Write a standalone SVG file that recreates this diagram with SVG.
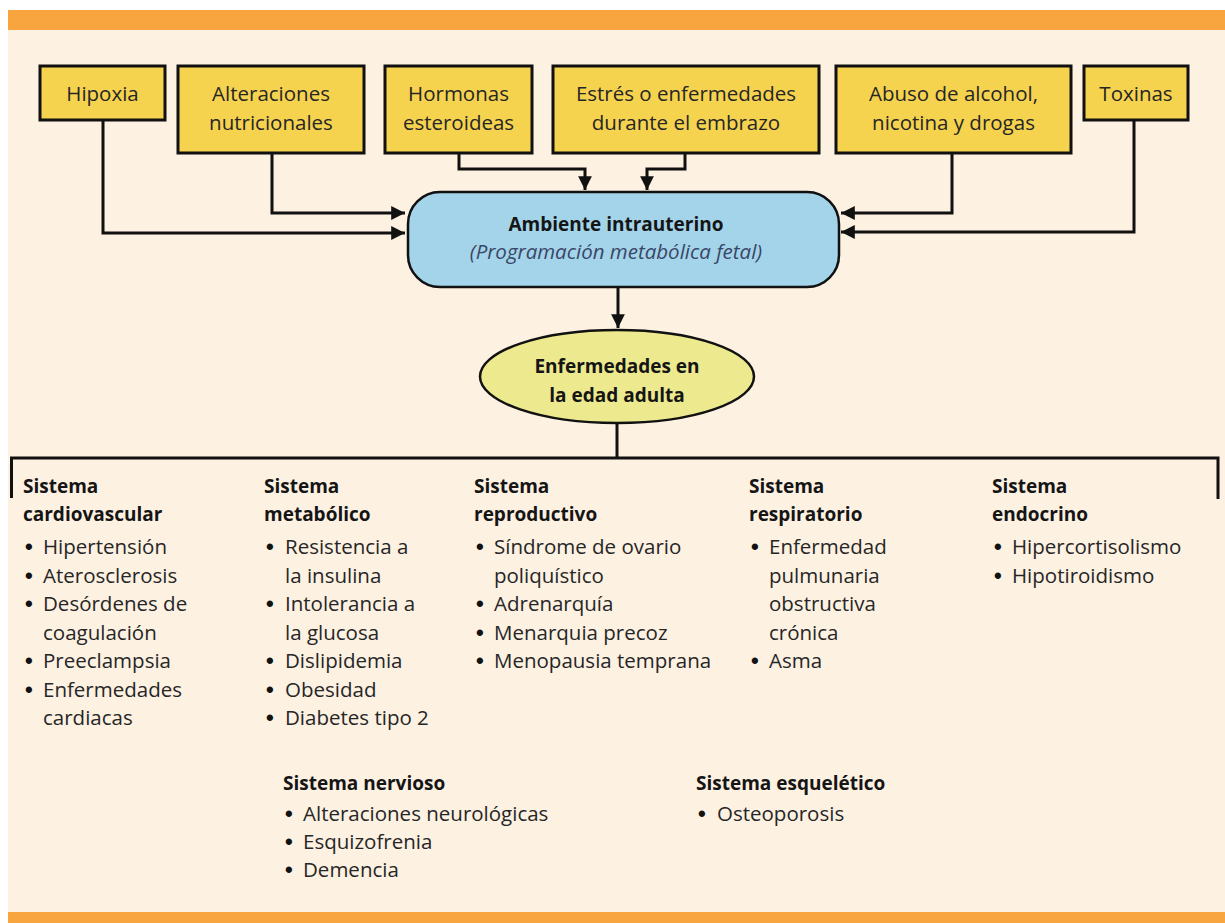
<svg xmlns="http://www.w3.org/2000/svg" width="1225" height="923" viewBox="0 0 1225 923">
<style>
.bg{fill:#fdf1e2}
.bar{fill:#f8a53f}
.box{fill:#f6d34f;stroke:#111;stroke-width:3}
.t{font-family:"Open Sans","Liberation Sans",sans-serif;font-size:20.5px;fill:#262626}
.c{text-anchor:middle}
.b{font-weight:bold;font-size:19px;fill:#151515}
.d{font-family:"Liberation Sans",sans-serif;font-size:22px;font-weight:bold;fill:#111}
.conn{fill:none;stroke:#111;stroke-width:3}
</style>
<defs>
<marker id="ah" viewBox="0 0 10 10" refX="10" refY="5" markerWidth="4.6" markerHeight="4.6" orient="auto" markerUnits="strokeWidth">
<path d="M0,0 L10,5 L0,10 Z" fill="#111"/>
</marker>
</defs>
<rect x="0" y="0" width="1225" height="923" fill="#ffffff"/>
<rect class="bg" x="8" y="30" width="1217" height="882"/>
<rect class="bar" x="8" y="10" width="1217" height="20"/>
<rect class="bar" x="8" y="912" width="1217" height="11"/>

<g id="connectors">
<path class="conn" d="M103,121 V233 H405" marker-end="url(#ah)"/>
<path class="conn" d="M272,153 V213 H405" marker-end="url(#ah)"/>
<path class="conn" d="M459,153 V169 H585 V190" marker-end="url(#ah)"/>
<path class="conn" d="M685,153 V169 H647 V190" marker-end="url(#ah)"/>
<path class="conn" d="M952,153 V213 H841" marker-end="url(#ah)"/>
<path class="conn" d="M1134,121 V232 H841" marker-end="url(#ah)"/>
<path class="conn" d="M618,287 V328" marker-end="url(#ah)"/>
<path class="conn" d="M617,423 V458"/>
<path class="conn" d="M11.5,498 V458 H1218 V499"/>
</g>

<g id="n-hipoxia">
<rect class="box" x="40" y="66" width="125" height="54"/>
<text class="t c" x="102.5" y="101">Hipoxia</text>
</g>
<g id="n-alteraciones">
<rect class="box" x="178" y="66" width="186" height="87"/>
<text class="t c" x="271" y="101">Alteraciones</text>
<text class="t c" x="271" y="130">nutricionales</text>
</g>
<g id="n-hormonas">
<rect class="box" x="385" y="66" width="147" height="87"/>
<text class="t c" x="458.5" y="101">Hormonas</text>
<text class="t c" x="458.5" y="130">esteroideas</text>
</g>
<g id="n-estres">
<rect class="box" x="553" y="66" width="266" height="87"/>
<text class="t c" x="686" y="101">Estrés o enfermedades</text>
<text class="t c" x="686" y="130">durante el embrazo</text>
</g>
<g id="n-abuso">
<rect class="box" x="836" y="66" width="235" height="87"/>
<text class="t c" x="953.5" y="101">Abuso de alcohol,</text>
<text class="t c" x="953.5" y="130">nicotina y drogas</text>
</g>
<g id="n-toxinas">
<rect class="box" x="1084" y="66" width="104" height="54"/>
<text class="t c" x="1136" y="101">Toxinas</text>
</g>

<g id="n-ambiente">
<rect x="408" y="192" width="431" height="95" rx="32" ry="32" fill="#a3d4e9" stroke="#111" stroke-width="2.5"/>
<text class="t c b" x="616" y="231">Ambiente intrauterino</text>
<text class="t c" x="616" y="259" font-style="italic" style="fill:#3a4668">(Programación metabólica fetal)</text>
</g>

<g id="n-enfermedades">
<ellipse cx="617" cy="376.5" rx="137" ry="46.5" fill="#ede98f" stroke="#111" stroke-width="2.5"/>
<text class="t c b" x="617" y="373">Enfermedades en</text>
<text class="t c b" x="617" y="402">la edad adulta</text>
</g>

<g id="n-cardio">
<text class="t b" x="23" y="493">Sistema</text>
<text class="t b" x="23" y="521">cardiovascular</text>
<text class="d" x="25" y="554">•</text><text class="t" x="43" y="554">Hipertensión</text>
<text class="d" x="25" y="582.5">•</text><text class="t" x="43" y="582.5">Aterosclerosis</text>
<text class="d" x="25" y="611">•</text><text class="t" x="43" y="611">Desórdenes de</text>
<text class="t" x="43" y="639.5">coagulación</text>
<text class="d" x="25" y="668">•</text><text class="t" x="43" y="668">Preeclampsia</text>
<text class="d" x="25" y="696.5">•</text><text class="t" x="43" y="696.5">Enfermedades</text>
<text class="t" x="43" y="725">cardiacas</text>
</g>

<g id="n-metabolico">
<text class="t b" x="264" y="493">Sistema</text>
<text class="t b" x="264" y="521">metabólico</text>
<text class="d" x="266" y="554">•</text><text class="t" x="285" y="554">Resistencia a</text>
<text class="t" x="285" y="582.5">la insulina</text>
<text class="d" x="266" y="611">•</text><text class="t" x="285" y="611">Intolerancia a</text>
<text class="t" x="285" y="639.5">la glucosa</text>
<text class="d" x="266" y="668">•</text><text class="t" x="285" y="668">Dislipidemia</text>
<text class="d" x="266" y="696.5">•</text><text class="t" x="285" y="696.5">Obesidad</text>
<text class="d" x="266" y="725">•</text><text class="t" x="285" y="725">Diabetes tipo 2</text>
</g>

<g id="n-reproductivo">
<text class="t b" x="474" y="493">Sistema</text>
<text class="t b" x="474" y="521">reproductivo</text>
<text class="d" x="476" y="554">•</text><text class="t" x="494" y="554">Síndrome de ovario</text>
<text class="t" x="494" y="582.5">poliquístico</text>
<text class="d" x="476" y="611">•</text><text class="t" x="494" y="611">Adrenarquía</text>
<text class="d" x="476" y="639.5">•</text><text class="t" x="494" y="639.5">Menarquia precoz</text>
<text class="d" x="476" y="668">•</text><text class="t" x="494" y="668">Menopausia temprana</text>
</g>

<g id="n-respiratorio">
<text class="t b" x="749" y="493">Sistema</text>
<text class="t b" x="749" y="521">respiratorio</text>
<text class="d" x="751" y="554">•</text><text class="t" x="769" y="554">Enfermedad</text>
<text class="t" x="769" y="582.5">pulmunaria</text>
<text class="t" x="769" y="611">obstructiva</text>
<text class="t" x="769" y="639.5">crónica</text>
<text class="d" x="751" y="668">•</text><text class="t" x="769" y="668">Asma</text>
</g>

<g id="n-endocrino">
<text class="t b" x="992" y="493">Sistema</text>
<text class="t b" x="992" y="521">endocrino</text>
<text class="d" x="994" y="554">•</text><text class="t" x="1012" y="554">Hipercortisolismo</text>
<text class="d" x="994" y="582.5">•</text><text class="t" x="1012" y="582.5">Hipotiroidismo</text>
</g>

<g id="n-nervioso">
<text class="t b" x="283" y="790">Sistema nervioso</text>
<text class="d" x="285" y="821">•</text><text class="t" x="303" y="821">Alteraciones neurológicas</text>
<text class="d" x="285" y="849">•</text><text class="t" x="303" y="849">Esquizofrenia</text>
<text class="d" x="285" y="877">•</text><text class="t" x="303" y="877">Demencia</text>
</g>

<g id="n-esqueletico">
<text class="t b" x="696" y="790">Sistema esquelético</text>
<text class="d" x="698" y="821">•</text><text class="t" x="717" y="821">Osteoporosis</text>
</g>
</svg>
